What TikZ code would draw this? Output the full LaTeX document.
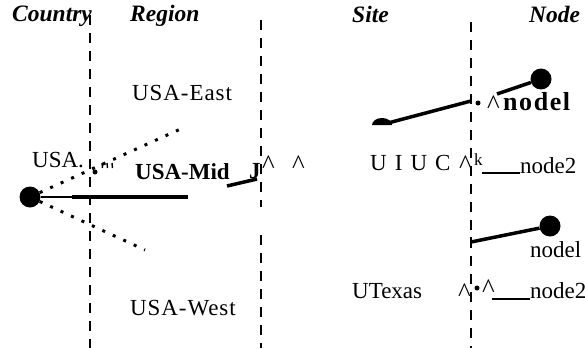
\documentclass[tikz,border=0pt]{standalone}
\usepackage{fontspec}
\setmainfont{Liberation Serif}
\newfontfamily\spacedfont[LetterSpace=4]{Liberation Serif}
\newfontfamily\widefont[LetterSpace=6]{Liberation Serif}
\newfontfamily\uiucfont[LetterSpace=10]{Liberation Serif}
\begin{document}
\begin{tikzpicture}[x=1pt,y=-1pt,
  txt/.style={anchor=base west, inner sep=0pt, font=\fontsize{23}{27}\selectfont},
  caret/.style={anchor=base west, inner sep=0pt, font=\fontsize{27}{30}\selectfont},
  sptxt/.style={anchor=base west, inner sep=0pt, font=\fontsize{23}{27}\selectfont\spacedfont},
  uiuctxt/.style={anchor=base west, inner sep=0pt, font=\fontsize{23}{27}\selectfont\uiucfont},
  hdr/.style={anchor=base west, inner sep=0pt, font=\fontsize{23.5}{28}\selectfont\bfseries\itshape},
  bld/.style={anchor=base west, inner sep=0pt, font=\fontsize{23}{27}\selectfont\bfseries},
  bigbld/.style={anchor=base west, inner sep=0pt, font=\fontsize{26}{30}\selectfont\widefont\bfseries},
  smalltxt/.style={anchor=base west, inner sep=0pt, font=\fontsize{17}{19}\selectfont},
  dashline/.style={line width=2.8pt, dash pattern=on 9.5pt off 8.5pt},
  dotline/.style={line width=3pt, dash pattern=on 3pt off 8.5pt},
  conn/.style={line width=3.5pt},
  thinconn/.style={line width=1.8pt},
  bigdot/.style={circle, fill, inner sep=0pt, minimum size=21pt},
  smalldot/.style={circle, fill, inner sep=0pt, minimum size=5pt}]
\useasboundingbox (0,0) rectangle (585,348);

% headers
\node[hdr] (hcountry) at (12,21) {Country};
\node[hdr] (hregion) at (130,21) {Region};
\node[hdr] (hsite) at (352,22) {Site};
\node[hdr] (hnode) at (529,22) {Node};

% dashed column separators
\coordinate (d1t) at (90,15);  \coordinate (d1b) at (90,348);
\coordinate (d2t) at (261,20); \coordinate (d2m) at (261,207);
\coordinate (d2n) at (261,235); \coordinate (d2b) at (261,348);
\coordinate (d3t) at (471,22); \coordinate (d3b) at (471,348);
\draw[dashline] (d1t) -- (d1b);
\draw[dashline] (d2t) -- (d2m);
\draw[dashline] (d2n) -- (d2b);
\draw[dashline] (d3t) -- (d3b);

% left: country
\node[bigdot] (usa) at (30,197) {};
\node[txt] (lusa) at (32,167) {USA.};
\coordinate (upend) at (185,127);
\coordinate (lowend) at (145,250);
\coordinate (midk) at (72,197);
\coordinate (midend) at (188,197);
\draw[dotline] (usa) -- (upend);
\draw[dotline] (usa) -- (lowend);
\draw[thinconn] (usa) -- (midk);
\draw[conn] (midk) -- (midend);
\node[smalldot] (sdot) at (95,172) {};
\foreach \i in {102,107,112}{\draw[line width=1.4pt] (\i,163) -- (\i+0.5,168);}

% regions
\node[sptxt] (least) at (132,100) {USA-East};
\node[bld] (lmid) at (135,179) {USA-Mid};
\coordinate (ja) at (227,186);
\coordinate (jb) at (257,179);
\draw[conn] (ja) -- (jb);
\node[bld] (lj) at (249,178) {J};
\node[caret] (c1) at (262,173) {\textasciicircum};
\node[caret] (c2) at (292,173) {\textasciicircum};
\node[sptxt] (lwest) at (130,315) {USA-West};

% site UIUC
\node[uiuctxt] (luiuc) at (370,170) {U I U C};
\node[caret] (c3) at (459,173) {\textasciicircum};
\node[smalltxt] (lk) at (474,165) {k};
\coordinate (u2a) at (482,173);
\coordinate (u2b) at (520,173);
\draw[thinconn] (u2a) -- (u2b);
\node[txt] (lnode2a) at (520,173) {node2};

\coordinate (uiucend) at (388,123);
\coordinate (uiucj) at (471,101);
\fill (372,125) arc[start angle=180, end angle=0, x radius=10pt, y radius=7pt] -- cycle;
\draw[conn] (uiucend) -- (uiucj);
\node[smalldot] (udot) at (478,103) {};
\node[caret] (c4) at (487,113) {\textasciicircum};
\node[bigbld] (lnode1a) at (503,110) {nodel};
\node[bigdot] (n1a) at (541,79) {};
\coordinate (n1ast) at (497,94);
\draw[conn] (n1ast) -- (n1a);

% site UTexas
\node[txt] (lutexas) at (352,298) {UTexas};
\node[bigdot] (n1b) at (550,226) {};
\coordinate (utj) at (471,242);
\draw[conn] (utj) -- (n1b);
\draw[line width=1.5pt] (471,237) -- (471,247);
\node[txt] (lnode1b) at (530,257) {nodel};
\node[caret] (c5) at (458,301) {\textasciicircum};
\node[smalldot] (tdot) at (477,288) {};
\node[caret] (c6) at (482,297) {\textasciicircum};
\coordinate (t2a) at (492,299);
\coordinate (t2b) at (530,299);
\draw[thinconn] (t2a) -- (t2b);
\node[txt] (lnode2b) at (530,298) {node2};
\end{tikzpicture}
\end{document}
